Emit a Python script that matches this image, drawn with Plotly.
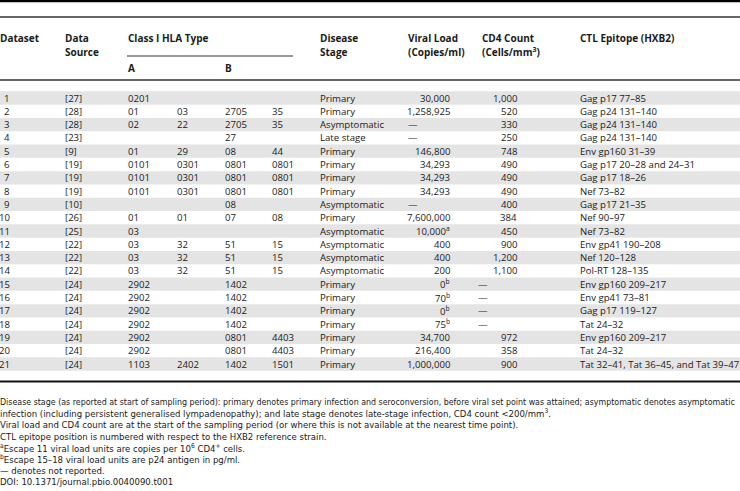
import plotly.graph_objects as go

# ---------------- data ----------------
dataset = [str(i) for i in range(1, 22)]
source = ["[27]", "[28]", "[28]", "[23]", "[9]", "[19]", "[19]", "[19]", "[10]", "[26]", "[25]",
          "[22]", "[22]", "[22]", "[24]", "[24]", "[24]", "[24]", "[24]", "[24]", "[24]"]
hla_a1 = ["0201", "01", "02", "", "01", "0101", "0101", "0101", "", "01", "03", "03", "03", "03",
          "2902", "2902", "2902", "2902", "2902", "2902", "1103"]
hla_a2 = ["", "03", "22", "", "29", "0301", "0301", "0301", "", "01", "", "32", "32", "32",
          "", "", "", "", "", "", "2402"]
hla_b1 = ["", "2705", "2705", "27", "08", "0801", "0801", "0801", "08", "07", "", "51", "51", "51",
          "1402", "1402", "1402", "1402", "0801", "0801", "1402"]
hla_b2 = ["", "35", "35", "", "44", "0801", "0801", "0801", "", "08", "", "15", "15", "15",
          "", "", "", "", "4403", "4403", "1501"]
stage = ["Primary", "Primary", "Asymptomatic", "Late stage", "Primary", "Primary", "Primary", "Primary",
         "Asymptomatic", "Primary", "Asymptomatic", "Asymptomatic", "Asymptomatic", "Asymptomatic",
         "Primary", "Primary", "Primary", "Primary", "Primary", "Primary", "Primary"]
viral_load = ["30,000", "1,258,925", "—", "—", "146,800", "34,293", "34,293", "34,293", "—",
              "7,600,000", "10,000<sup>a</sup>", "400", "400", "200", "0<sup>b</sup>", "70<sup>b</sup>",
              "0<sup>b</sup>", "75<sup>b</sup>", "34,700", "216,400", "1,000,000"]
cd4_count = ["1,000", "520", "330", "250", "748", "490", "490", "490", "400", "384", "450", "900",
             "1,200", "1,100", "—", "—", "—", "—", "972", "358", "900"]
epitope = ["Gag p17 77–85", "Gag p24 131–140", "Gag p24 131–140", "Gag p24 131–140", "Env gp160 31–39",
           "Gag p17 20–28 and 24–31", "Gag p17 18–26", "Nef 73–82", "Gag p17 21–35", "Nef 90–97",
           "Nef 73–82", "Env gp41 190–208", "Nef 120–128", "Pol-RT 128–135", "Env gp160 209–217",
           "Env gp41 73–81", "Gag p17 119–127", "Tat 24–32", "Env gp160 209–217", "Tat 24–32",
           "Tat 32–41, Tat 36–45, and Tat 39–47"]

footnotes = [
    "Disease stage (as reported at start of sampling period): primary denotes primary infection and seroconversion, before viral set point was attained; asymptomatic denotes asymptomatic",
    "infection (including persistent generalised lympadenopathy); and late stage denotes late-stage infection, CD4 count &lt;200/mm<sup>3</sup>.",
    "Viral load and CD4 count are at the start of the sampling period (or where this is not available at the nearest time point).",
    "CTL epitope position is numbered with respect to the HXB2 reference strain.",
    "<sup>a</sup>Escape 11 viral load units are copies per 10<sup>6</sup> CD4<sup>+</sup> cells.",
    "<sup>b</sup>Escape 15–18 viral load units are p24 antigen in pg/ml.",
    "— denotes not reported.",
    "DOI: 10.1371/journal.pbio.0040090.t001",
]

# ---------------- layout constants ----------------
W, H = 740, 491
FONT = "Open Sans, Noto Sans, sans-serif"
NOTE_FONT = "Liberation Sans Narrow, Arial Narrow, DejaVu Sans Condensed, Open Sans, sans-serif"
TXT = "#1a1a1a"
FS = 9.6
FSH = 10
NOTE_SIZES = [8.8, 9.5, 9.5, 9.5, 9.5, 9.5, 9.5, 9.5]
ROW0, PITCH = 98.0, 13.3
SHADE = "#e4e4e4"

fig = go.Figure()
fig.add_trace(go.Scatter(x=[0, W], y=[0, H], mode="markers", marker=dict(opacity=0),
                         hoverinfo="skip", showlegend=False))

annotations = []
shapes = []


def txt(x, y, s, anchor="left", bold=False, size=FS, family=FONT):
    if not s:
        return
    annotations.append(dict(x=x, y=y, xref="x", yref="y", text=f"<b>{s}</b>" if bold else s,
                            showarrow=False, xanchor=anchor, yanchor="middle",
                            borderpad=0, borderwidth=0,
                            font=dict(family=family, size=size, color=TXT)))


def hline(x0, x1, y, w, color):
    shapes.append(dict(type="line", xref="x", yref="y", x0=x0, x1=x1, y0=y, y1=y,
                       line=dict(color=color, width=w)))


# row shading
for i in range(len(dataset)):
    yc = ROW0 + i * PITCH
    if i % 2 == 0:
        shapes.append(dict(type="rect", xref="x", yref="y", x0=0, x1=W,
                           y0=yc - PITCH / 2, y1=yc + PITCH / 2,
                           fillcolor=SHADE, line=dict(width=0), layer="below"))

# rules
hline(0, W, 1, 2.5, "#000000")
hline(0, W, 17, 1.3, "#333333")
hline(127, 293, 56, 1.2, "#333333")
hline(0, W, 80, 1.3, "#333333")
hline(0, W, 381.5, 2.2, "#111111")

# headers
YH1, YH2, YH3 = 38, 52, 68
txt(0, YH1, "Dataset", bold=True, size=FSH)
txt(65, YH1, "Data", bold=True, size=FSH)
txt(65, YH2, "Source", bold=True, size=FSH)
txt(128, YH1, "Class I HLA Type", bold=True, size=FSH)
txt(128, YH3, "A", bold=True, size=FSH)
txt(225, YH3, "B", bold=True, size=FSH)
txt(320, YH1, "Disease", bold=True, size=FSH)
txt(320, YH2, "Stage", bold=True, size=FSH)
txt(408, YH1, "Viral Load", bold=True, size=FSH)
txt(408, YH2, "(Copies/ml)", bold=True, size=FSH)
txt(482, YH1, "CD4 Count", bold=True, size=FSH)
txt(482, YH2, "(Cells/mm<sup>3</sup>)", bold=True, size=FSH)
txt(580, YH1, "CTL Epitope (HXB2)", bold=True, size=FSH)

# body
for i in range(len(dataset)):
    y = ROW0 + i * PITCH
    txt(9.5, y, dataset[i], anchor="right")
    txt(65, y, source[i])
    txt(128, y, hla_a1[i])
    txt(177, y, hla_a2[i])
    txt(225, y, hla_b1[i])
    txt(272, y, hla_b2[i])
    txt(320, y, stage[i])
    if viral_load[i] == "—":
        txt(408, y, viral_load[i])
    else:
        txt(450, y, viral_load[i], anchor="right")
    if cd4_count[i] == "—":
        txt(478, y, cd4_count[i])
    else:
        txt(517, y, cd4_count[i], anchor="right")
    txt(580, y, epitope[i])

# footnotes
for k, line in enumerate(footnotes):
    txt(0, 402 + k * 11.4, line, size=NOTE_SIZES[k], family=NOTE_FONT)

fig.update_layout(
    width=W, height=H, margin=dict(l=0, r=0, t=0, b=0),
    paper_bgcolor="white", plot_bgcolor="white",
    xaxis=dict(range=[0, W], visible=False, fixedrange=True),
    yaxis=dict(range=[H, 0], visible=False, fixedrange=True),
    annotations=annotations, shapes=shapes, showlegend=False,
)

fig.write_html("out.html", config={"displayModeBar": False},
               post_script="document.body.style.margin='0';")
